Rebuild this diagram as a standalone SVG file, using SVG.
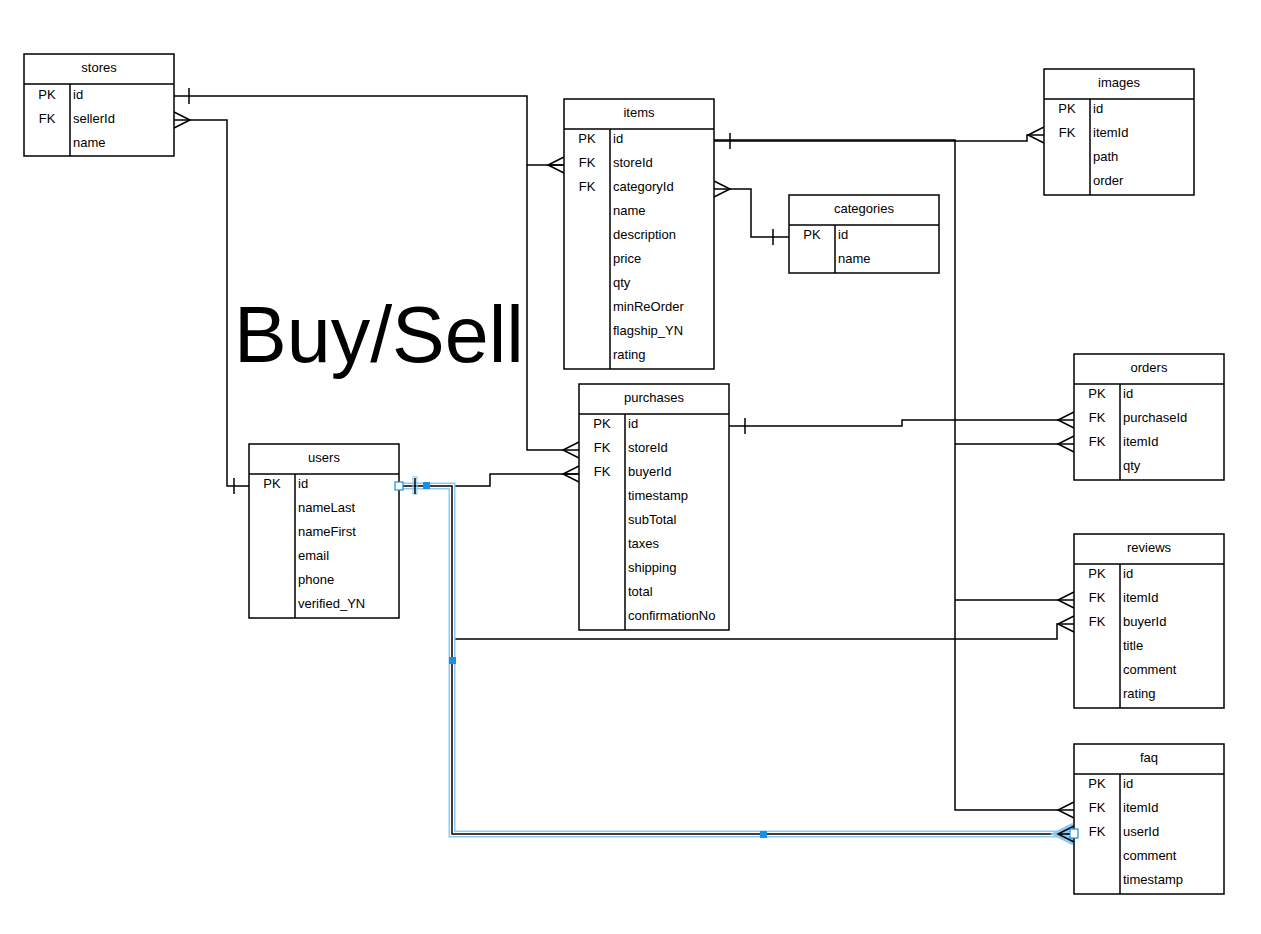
<svg xmlns="http://www.w3.org/2000/svg" width="1261" height="934" viewBox="0 0 1261 934">
<style>
.tb{fill:#fff;stroke:#000;stroke-width:1.5}
.ln{fill:none;stroke:#000;stroke-width:1.5}
.t{font-family:"Liberation Sans",Arial,sans-serif;font-size:13px;fill:#000}
.h{text-anchor:middle}
.k{text-anchor:middle}
.c{fill:none;stroke:#000;stroke-width:1.5}
.halo{fill:none;stroke:#8fcaf2;stroke-width:7}
.gap{fill:none;stroke:#fff;stroke-width:4}
.hw{fill:#fff;stroke:#1a8fe3;stroke-width:1.2}
.hb{fill:#1a8fe3;stroke:none}
</style>
<rect width="1261" height="934" fill="#fff"/>
<g id="title"><text x="234" y="362" font-family="Liberation Sans,Arial,sans-serif" font-size="79" fill="#000">Buy/Sell</text></g>

<g id="connectors">
<path class="c" d="M174,96 H527 V165 H564"/>
<path class="c" d="M189,88 V104"/>
<path class="c" d="M564,157 L548,165 L564,173 M548,165 H564"/>
<path class="c" d="M527,165 V450 H579"/>
<path class="c" d="M579,442 L563,450 L579,458"/>
<path class="c" d="M174,120 H227 V486 H249"/>
<path class="c" d="M174,112 L190,120 L174,128"/>
<path class="c" d="M234,478 V494"/>
<path class="c" d="M714,189 H751 V237 H789"/>
<path class="c" d="M714,181 L730,189 L714,197"/>
<path class="c" d="M773,229 V245"/>
<path class="c" d="M714,141 H1027 V135 H1044"/>
<path class="c" d="M730,133 V149"/>
<path class="c" d="M1044,127 L1028,135 L1044,143"/>
<path class="c" d="M714,140 H955 V810 H1074"/>
<path class="c" d="M955,444 H1074 M955,600 H1074"/>
<path class="c" d="M1074,436 L1058,444 L1074,452"/>
<path class="c" d="M1074,592 L1058,600 L1074,608"/>
<path class="c" d="M1074,802 L1058,810 L1074,818"/>
<path class="c" d="M729,426 H902 V420 H1074"/>
<path class="c" d="M745,418 V434"/>
<path class="c" d="M1074,412 L1058,420 L1074,428"/>
<path class="c" d="M399,486 H490 V474 H579"/>
<path class="c" d="M579,466 L563,474 L579,482 M563,474 H579"/>
<path class="c" d="M452,639 H1057 V624 H1074"/>
<path class="c" d="M1074,616 L1058,624 L1074,632"/>
<path class="halo" d="M399,486 H452 V834 H1074"/>
<path class="gap" d="M399,486 H452 V834 H1074"/>
<path class="c" d="M399,486 H452 V834 H1074"/>
<path class="halo" d="M1074,826 L1058,834 L1074,842" stroke-width="4"/>
<path class="c" d="M1074,826 L1058,834 L1074,842 M1058,834 H1074"/>
<rect x="413" y="477" width="4" height="17" fill="none" stroke="#8fcaf2" stroke-width="1.2"/>
<path class="c" d="M415,478 V494"/>
</g>

<g id="stores">
<rect class="tb" x="24" y="54" width="150" height="102"/>
<path class="ln" d="M24,84 H174 M70,84 V156"/>
<text class="t h" x="99" y="72">stores</text>
<text class="t k" x="47" y="99">PK</text><text class="t" x="73" y="99">id</text>
<text class="t k" x="47" y="123">FK</text><text class="t" x="73" y="123">sellerId</text>
<text class="t" x="73" y="147">name</text>
</g>

<g id="items">
<rect class="tb" x="564" y="99" width="150" height="270"/>
<path class="ln" d="M564,129 H714 M610,129 V369"/>
<text class="t h" x="639" y="117">items</text>
<text class="t k" x="587" y="143">PK</text><text class="t" x="613" y="143">id</text>
<text class="t k" x="587" y="167">FK</text><text class="t" x="613" y="167">storeId</text>
<text class="t k" x="587" y="191">FK</text><text class="t" x="613" y="191">categoryId</text>
<text class="t" x="613" y="215">name</text>
<text class="t" x="613" y="239">description</text>
<text class="t" x="613" y="263">price</text>
<text class="t" x="613" y="287">qty</text>
<text class="t" x="613" y="311">minReOrder</text>
<text class="t" x="613" y="335">flagship_YN</text>
<text class="t" x="613" y="359">rating</text>
</g>

<g id="images">
<rect class="tb" x="1044" y="69" width="150" height="126"/>
<path class="ln" d="M1044,99 H1194 M1090,99 V195"/>
<text class="t h" x="1119" y="87">images</text>
<text class="t k" x="1067" y="113">PK</text><text class="t" x="1093" y="113">id</text>
<text class="t k" x="1067" y="137">FK</text><text class="t" x="1093" y="137">itemId</text>
<text class="t" x="1093" y="161">path</text>
<text class="t" x="1093" y="185">order</text>
</g>

<g id="categories">
<rect class="tb" x="789" y="195" width="150" height="78"/>
<path class="ln" d="M789,225 H939 M835,225 V273"/>
<text class="t h" x="864" y="213">categories</text>
<text class="t k" x="812" y="239">PK</text><text class="t" x="838" y="239">id</text>
<text class="t" x="838" y="263">name</text>
</g>

<g id="orders">
<rect class="tb" x="1074" y="354" width="150" height="126"/>
<path class="ln" d="M1074,384 H1224 M1120,384 V480"/>
<text class="t h" x="1149" y="372">orders</text>
<text class="t k" x="1097" y="398">PK</text><text class="t" x="1123" y="398">id</text>
<text class="t k" x="1097" y="422">FK</text><text class="t" x="1123" y="422">purchaseId</text>
<text class="t k" x="1097" y="446">FK</text><text class="t" x="1123" y="446">itemId</text>
<text class="t" x="1123" y="470">qty</text>
</g>

<g id="purchases">
<rect class="tb" x="579" y="384" width="150" height="246"/>
<path class="ln" d="M579,414 H729 M625,414 V630"/>
<text class="t h" x="654" y="402">purchases</text>
<text class="t k" x="602" y="428">PK</text><text class="t" x="628" y="428">id</text>
<text class="t k" x="602" y="452">FK</text><text class="t" x="628" y="452">storeId</text>
<text class="t k" x="602" y="476">FK</text><text class="t" x="628" y="476">buyerId</text>
<text class="t" x="628" y="500">timestamp</text>
<text class="t" x="628" y="524">subTotal</text>
<text class="t" x="628" y="548">taxes</text>
<text class="t" x="628" y="572">shipping</text>
<text class="t" x="628" y="596">total</text>
<text class="t" x="628" y="620">confirmationNo</text>
</g>

<g id="users">
<rect class="tb" x="249" y="444" width="150" height="174"/>
<path class="ln" d="M249,474 H399 M295,474 V618"/>
<text class="t h" x="324" y="462">users</text>
<text class="t k" x="272" y="488">PK</text><text class="t" x="298" y="488">id</text>
<text class="t" x="298" y="512">nameLast</text>
<text class="t" x="298" y="536">nameFirst</text>
<text class="t" x="298" y="560">email</text>
<text class="t" x="298" y="584">phone</text>
<text class="t" x="298" y="608">verified_YN</text>
</g>

<g id="reviews">
<rect class="tb" x="1074" y="534" width="150" height="174"/>
<path class="ln" d="M1074,564 H1224 M1120,564 V708"/>
<text class="t h" x="1149" y="552">reviews</text>
<text class="t k" x="1097" y="578">PK</text><text class="t" x="1123" y="578">id</text>
<text class="t k" x="1097" y="602">FK</text><text class="t" x="1123" y="602">itemId</text>
<text class="t k" x="1097" y="626">FK</text><text class="t" x="1123" y="626">buyerId</text>
<text class="t" x="1123" y="650">title</text>
<text class="t" x="1123" y="674">comment</text>
<text class="t" x="1123" y="698">rating</text>
</g>

<g id="faq">
<rect class="tb" x="1074" y="744" width="150" height="150"/>
<path class="ln" d="M1074,774 H1224 M1120,774 V894"/>
<text class="t h" x="1149" y="762">faq</text>
<text class="t k" x="1097" y="788">PK</text><text class="t" x="1123" y="788">id</text>
<text class="t k" x="1097" y="812">FK</text><text class="t" x="1123" y="812">itemId</text>
<text class="t k" x="1097" y="836">FK</text><text class="t" x="1123" y="836">userId</text>
<text class="t" x="1123" y="860">comment</text>
<text class="t" x="1123" y="884">timestamp</text>
</g>

<g id="selection-handles">
<rect class="hw" x="395" y="482" width="8" height="8"/>
<rect class="hb" x="423" y="482" width="7" height="7"/>
<rect class="hb" x="449" y="657" width="7" height="7"/>
<rect class="hb" x="760" y="831" width="7" height="7"/>
<rect class="hw" x="1070" y="829" width="8" height="9"/>
</g>
</svg>
